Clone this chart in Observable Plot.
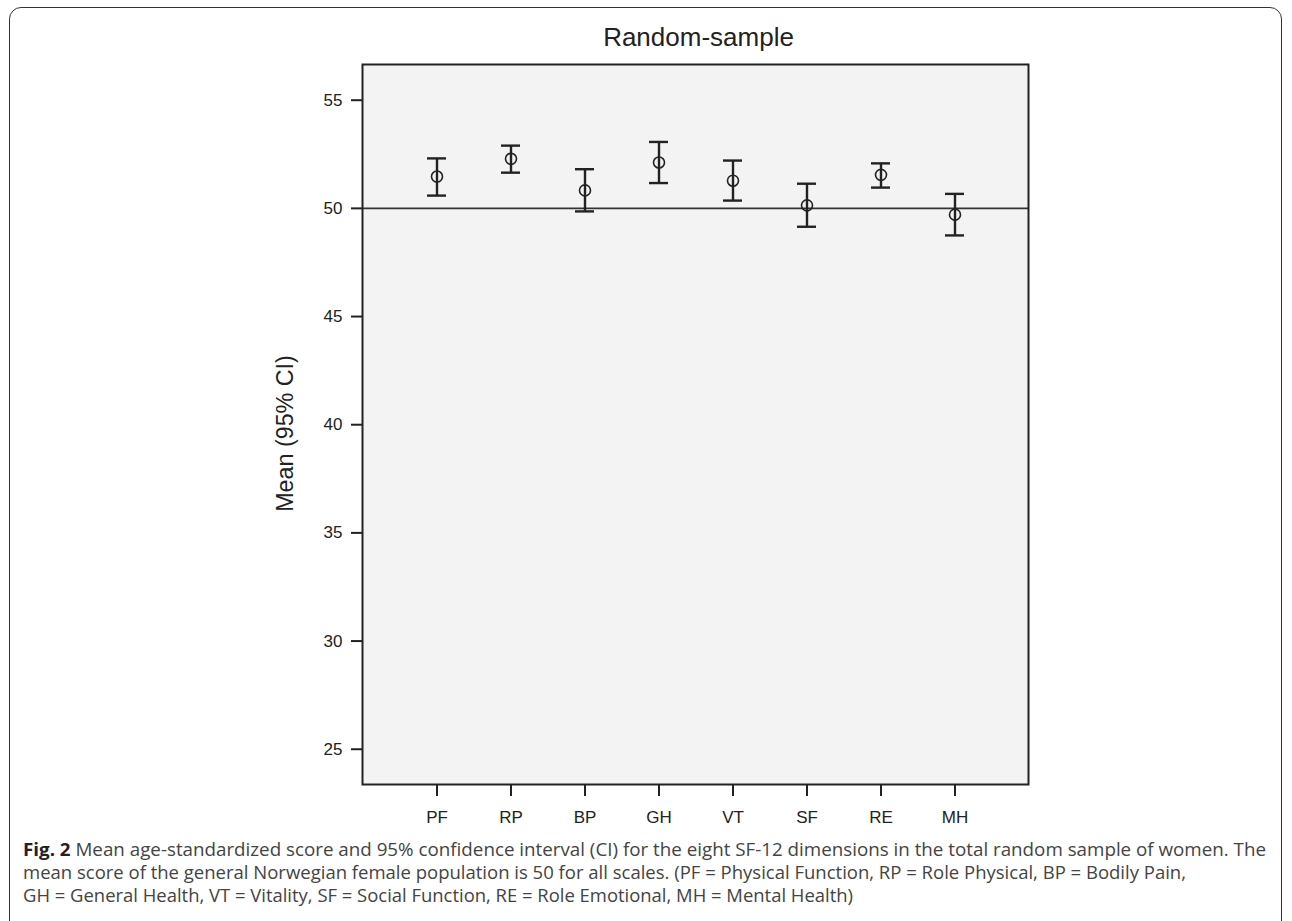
<!DOCTYPE html>
<html>
<head>
<meta charset="utf-8">
<script src="https://cdn.jsdelivr.net/npm/d3@7"></script>
<script src="https://cdn.jsdelivr.net/npm/@observablehq/plot@0.6"></script>
<style>
  html, body { margin: 0; padding: 0; background: #fff; }
  #wrap { position: relative; width: 1292px; height: 921px; overflow: hidden; }
  #border { position: absolute; left: 9px; top: 7px; width: 1273px; height: 940px;
            border: 1.5px solid #333; border-radius: 12px; box-sizing: border-box; }
  #chart { position: absolute; left: 0; top: 0; }
  .cap { position: absolute; left: 23px; white-space: nowrap; font-family: "Open Sans", sans-serif;
         font-size: 18px; line-height: 23px; color: #444; transform-origin: 0 50%; }
  .cap b { color: #222; font-weight: 700; }
</style>
</head>
<body>
<div id="wrap">
  <div id="border"></div>
  <div id="chart"></div>
  <div class="cap" id="c1" data-w="1243" style="top:838px"><b>Fig. 2</b> Mean age-standardized score and 95% confidence interval (CI) for the eight SF-12 dimensions in the total random sample of women. The</div>
  <div class="cap" id="c2" data-w="1163" style="top:861px">mean score of the general Norwegian female population is 50 for all scales. (PF = Physical Function, RP = Role Physical, BP = Bodily Pain,</div>
  <div class="cap" id="c3" data-w="830" style="top:884px">GH = General Health, VT = Vitality, SF = Social Function, RE = Role Emotional, MH = Mental Health)</div>
</div>
<script>
// ---- data ----
const categories = ["PF", "RP", "BP", "GH", "VT", "SF", "RE", "MH"];
const means = [51.47, 52.29, 50.83, 52.12, 51.28, 50.14, 51.55, 49.71];
const lower = [50.59, 51.65, 49.86, 51.17, 50.36, 49.15, 50.96, 48.75];
const upper = [52.31, 52.90, 51.81, 53.07, 52.21, 51.14, 52.08, 50.67];
const yTicks = [25, 30, 35, 40, 45, 50, 55];
const referenceValue = 50;
const titleText = "Random-sample";
const yLabel = "Mean (95% CI)";

const data = categories.map((c, i) => ({cat: c, mean: means[i], lo: lower[i], hi: upper[i]}));

const ink = "#222";
try {
const chart = Plot.plot({
  width: 1292,
  height: 840,
  marginLeft: 362,
  marginRight: 264,
  marginTop: 64,
  marginBottom: 56,
  style: {fontFamily: "'Liberation Sans', Arial, sans-serif", fontSize: "17px", color: ink, background: "transparent"},
  x: {type: "band", domain: categories, paddingInner: 0.7467, paddingOuter: 0.82, label: null},
  y: {domain: [23.37, 56.65], label: null},
  marks: [
    Plot.frame({fill: "#f3f3f3", stroke: "none"}),
    Plot.ruleY([referenceValue], {stroke: "#333", strokeWidth: 1.6}),
    Plot.ruleX(data, {x: "cat", y1: "lo", y2: "hi", stroke: ink, strokeWidth: 2.4}),
    Plot.tickY(data, {x: "cat", y: "lo", stroke: ink, strokeWidth: 2.4}),
    Plot.tickY(data, {x: "cat", y: "hi", stroke: ink, strokeWidth: 2.4}),
    Plot.dot(data, {x: "cat", y: "mean", r: 5.5, stroke: ink, strokeWidth: 1.6, fill: "none"}),
    Plot.frame({stroke: ink, strokeWidth: 2, fill: "none"}),
    Plot.axisY(yTicks, {tickSize: 11, tickPadding: 9, strokeWidth: 2, stroke: ink, fill: ink, fontSize: 17, label: null}),
    Plot.axisX({tickSize: 12, tickPadding: 14, strokeWidth: 2, stroke: ink, fill: ink, fontSize: 17, label: null}),
    Plot.text([titleText], {frameAnchor: "top", lineAnchor: "middle", text: d => d, dy: -27, fontSize: 26, fill: ink, dx: 3}),
    Plot.text([yLabel], {frameAnchor: "left", textAnchor: "middle", lineAnchor: "middle", text: d => d, rotate: -90, dx: -77, dy: 9, fontSize: 23.3, fill: ink})
  ]
});
document.getElementById("chart").appendChild(chart);
} catch (e) { console.error(e); }

// fit caption lines to the widths of the original typesetting
document.querySelectorAll(".cap").forEach(el => {
  const w = el.getBoundingClientRect().width;
  const target = +el.dataset.w;
  el.style.transform = `scaleX(${target / w})`;
});
</script>
</body>
</html>
